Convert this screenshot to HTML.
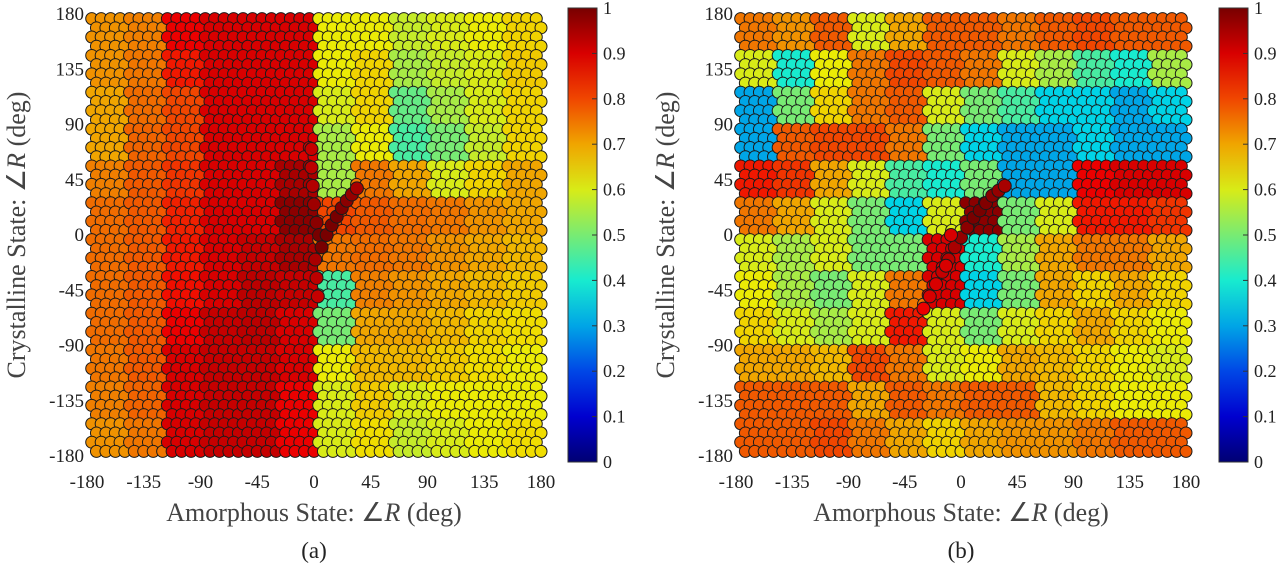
<!DOCTYPE html>
<html><head><meta charset="utf-8">
<style>
body{margin:0;background:#fff;}
svg{display:block;font-family:"Liberation Serif",serif;}
</style></head>
<body>
<svg id="fig" width="1280" height="570" viewBox="0 0 1280 570"></svg>
<script>
const angleTicks=[-180,-135,-90,-45,0,45,90,135,180];
const cbTicks=[0,0.1,0.2,0.3,0.4,0.5,0.6,0.7,0.8,0.9,1];
const gridCenters=[-165,-135,-105,-75,-45,-15,15,45,75,105,135,165];
// rows top (y=165) to bottom (y=-165), cols x=-165..165
const valuesA=[
[.72,.74,.88,.9,.9,.9,.62,.62,.58,.6,.62,.65],
[.72,.75,.85,.9,.9,.9,.62,.65,.55,.58,.6,.66],
[.7,.76,.8,.9,.9,.9,.6,.65,.48,.55,.6,.65],
[.7,.77,.8,.9,.9,.9,.55,.62,.45,.5,.58,.65],
[.74,.78,.82,.9,.9,.95,.55,.75,.7,.6,.65,.7],
[.76,.78,.84,.9,.9,.98,.8,.78,.76,.75,.72,.7],
[.76,.78,.85,.9,.92,.95,.75,.76,.75,.72,.7,.68],
[.76,.78,.86,.9,.93,.92,.45,.74,.72,.7,.68,.66],
[.76,.78,.88,.92,.93,.9,.5,.7,.7,.68,.65,.64],
[.75,.78,.9,.92,.92,.9,.62,.68,.68,.66,.64,.62],
[.74,.77,.9,.92,.92,.88,.6,.66,.6,.62,.62,.62],
[.72,.75,.9,.92,.92,.88,.6,.64,.58,.6,.62,.64]];
const valuesB=[
[.75,.72,.78,.6,.7,.78,.78,.75,.78,.8,.78,.78],
[.6,.4,.62,.75,.8,.78,.75,.6,.55,.45,.4,.55],
[.3,.5,.65,.75,.78,.6,.5,.45,.35,.35,.3,.35],
[.3,.78,.8,.8,.75,.5,.35,.3,.3,.35,.3,.3],
[.85,.82,.7,.6,.45,.4,.5,.3,.3,.88,.9,.9],
[.75,.7,.6,.5,.35,.6,.98,.5,.6,.85,.85,.82],
[.6,.55,.6,.5,.5,.9,.4,.55,.7,.75,.75,.7],
[.62,.55,.5,.6,.75,.9,.35,.5,.7,.65,.7,.65],
[.65,.6,.55,.6,.85,.6,.5,.6,.65,.7,.65,.62],
[.7,.7,.68,.8,.75,.6,.62,.7,.68,.65,.62,.6],
[.78,.78,.78,.7,.78,.75,.78,.78,.68,.65,.62,.62],
[.78,.78,.8,.75,.7,.65,.7,.72,.72,.75,.78,.78]];
const streakAx=[-2,-2,-1,0,2,4,6,10,14,18,22,26,30,34,1,2,3];
const streakAy=[70,55,40,25,10,0,-10,0,8,15,22,28,33,38,-20,-35,-50];
const streakAv=[.92,.93,.94,.96,.98,1,1,1,1,1,.99,.98,.97,.95,.95,.93,.92];
const streakBx=[-30,-25,-20,-15,-10,-5,0,5,10,15,20,25,30,35,-8,-12];
const streakBy=[-60,-50,-40,-30,-20,-10,-2,6,14,20,26,32,36,40,0,-25];
const streakBv=[.88,.9,.9,.92,.93,.95,.97,.98,1,1,.99,.98,.97,.95,.9,.9];

const NS="http://www.w3.org/2000/svg";
const svg=document.getElementById('fig');
function mk(tag,attrs,parent){const e=document.createElementNS(NS,tag);for(const k in attrs)e.setAttribute(k,attrs[k]);(parent||svg).appendChild(e);return e;}
function jet(v){v=Math.max(0,Math.min(1,v));
 const f=t=>Math.max(0,Math.min(1,1.5-Math.abs(4*v-t)));
 return `rgb(${Math.round(f(3)*240)},${Math.round(f(2)*235)},${Math.round(f(1)*230)})`;}

function panel(p){
 const xs=v=>p.x0+(v+180)/360*(p.x1-p.x0);
 const ys=v=>p.y0+(180-v)/360*(p.y1-p.y0);
 const g=mk('g',{});
 
 
 const clip=mk('clipPath',{id:'clip'+p.name});
 mk('rect',{x:p.x0-8,y:p.y0-9,width:p.x1-p.x0+16,height:p.y1-p.y0+18},clip);
 g.setAttribute('clip-path','url(#clip'+p.name+')');
 const offs=[-11.25,-3.75,3.75,11.25];
 for(let r=0;r<p.vals.length;r++){
  for(let c=0;c<p.vals[r].length;c++){
   for(let i=0;i<4;i++)for(let j=0;j<4;j++){
    const dx=gridCenters[c]+offs[j]+(i%2?3.75:0);
    const yv=gridCenters[11-r]-offs[i];
    const circ=mk('circle',{cx:xs(dx),cy:ys(yv),r:6,fill:jet(p.vals[r][c]),stroke:'#1a1a1a','stroke-width':1},g);
    
    
   }
  }
 }
 for(let k=0;k<p.sx.length;k++){
  const circ=mk('circle',{cx:xs(p.sx[k]),cy:ys(p.sy[k]),r:6.5,fill:jet(p.sv[k]),stroke:'#1a1a1a','stroke-width':1},g);
  
  
 }
 angleTicks.forEach(t=>{
  const tx=mk('text',{x:xs(t),y:488,'font-size':19,'text-anchor':'middle',fill:'#222'});
  tx.textContent=t;
  
  
  const ty=mk('text',{x:p.x0-3,y:ys(t)+6,'font-size':19,'text-anchor':'end',fill:'#222'});
  ty.textContent=t;
  
  
 });
 const xl=mk('text',{x:(p.x0+p.x1)/2,y:521,'font-size':26,'text-anchor':'middle',fill:'#444'});
 xl.innerHTML='Amorphous State: ∠<tspan font-style="italic">R</tspan> (deg)';
 
 
 const yl=mk('text',{x:0,y:0,'font-size':26,'text-anchor':'middle',fill:'#444',transform:`translate(${p.x0-62},${(p.y0+p.y1)/2}) rotate(-90)`});
 yl.innerHTML='Crystalline State: ∠<tspan font-style="italic">R</tspan> (deg)';
 
 
 const cap=mk('text',{x:(p.x0+p.x1)/2,y:558,'font-size':23,'text-anchor':'middle',fill:'#222'});
 cap.textContent=p.cap;
 
 
 const gid='jet'+p.name;
 const lg=mk('linearGradient',{id:gid,x1:0,y1:1,x2:0,y2:0});
 for(let s=0;s<=10;s++)mk('stop',{offset:s/10,'stop-color':jet(s/10)},lg);
 const cb=mk('rect',{x:p.cbx,y:p.y0-6,width:29,height:p.y1-p.y0+12,fill:`url(#${gid})`,stroke:'#333','stroke-width':1});
 
 
 const cy=v=>p.y1+6-v*(p.y1-p.y0+12);
 cbTicks.forEach(t=>{
  mk('line',{x1:p.cbx+24,x2:p.cbx+29,y1:cy(t),y2:cy(t),stroke:'#333'});
  const tl=mk('text',{x:p.cbx+35,y:cy(t)+6,'font-size':18,fill:'#222'});
  tl.textContent=t;
  
  
 });
}
panel({name:'a',x0:87,x1:541,y0:14,y1:456,vals:valuesA,sx:streakAx,sy:streakAy,sv:streakAv,cap:'(a)',cbx:568});
panel({name:'b',x0:736,x1:1186,y0:14,y1:456,vals:valuesB,sx:streakBx,sy:streakBy,sv:streakBv,cap:'(b)',cbx:1219});
</script>
</body></html>
